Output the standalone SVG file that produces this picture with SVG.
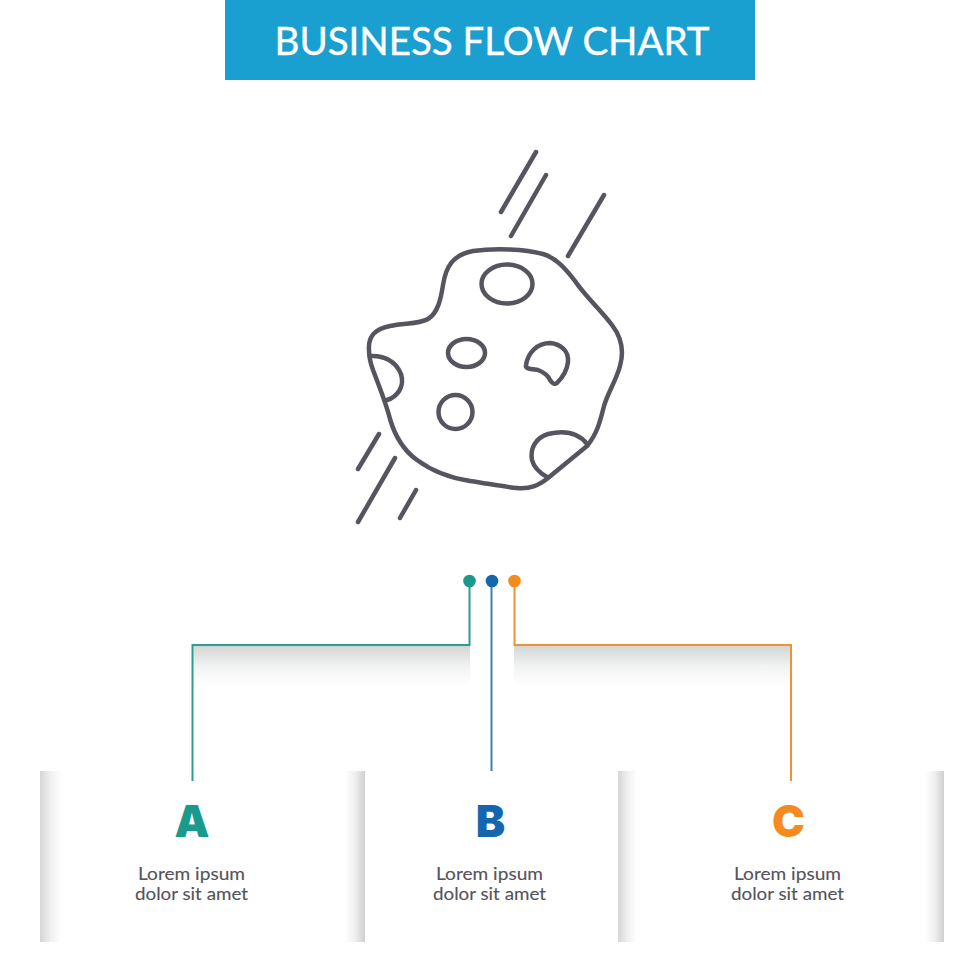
<svg xmlns="http://www.w3.org/2000/svg" width="980" height="980" viewBox="0 0 980 980">
<style>
.ink{fill:none;stroke:#56545f;stroke-width:4.500;stroke-linecap:round;stroke-linejoin:round}
.link{fill:none;stroke-width:2}
.letter{font-family:"Inter","Liberation Sans",sans-serif;font-weight:900;font-size:44px;text-anchor:middle}
.body{font-family:"Lato","Liberation Sans",sans-serif;font-size:17px;fill:#55535c;stroke:#55535c;stroke-width:.12;text-anchor:middle}
.title{font-family:"Lato","Liberation Sans",sans-serif;font-size:38px;fill:#fff;stroke:#fff;stroke-width:.4;text-anchor:middle}
</style>
<defs>
<linearGradient id="sl" x1="0" x2="1" y1="0" y2="0"><stop offset="0" stop-color="#d6d6d6"/><stop offset=".5" stop-color="#f0f0f0"/><stop offset="1" stop-color="#fff"/></linearGradient>
<linearGradient id="sr" x1="1" x2="0" y1="0" y2="0"><stop offset="0" stop-color="#d0d0d0"/><stop offset=".5" stop-color="#efefef"/><stop offset="1" stop-color="#fff"/></linearGradient>
<linearGradient id="sd" x1="0" x2="0" y1="0" y2="1"><stop offset="0" stop-color="#d4d6d6"/><stop offset=".5" stop-color="#f1f2f2"/><stop offset="1" stop-color="#fff"/></linearGradient>
</defs>
<rect width="980" height="980" fill="#fff"/>
<g id="banner"><rect x="225" y="0" width="530" height="80" fill="#1a9fd1"/>
<text class="title" x="492" y="55" textLength="435" lengthAdjust="spacingAndGlyphs">BUSINESS FLOW CHART</text></g>
<g id="asteroid">
<path class="ink" d="M369 350C368 335 376 329 390 326C405 323 420 324 428 319C438 313 441 298 443 285C446 266 453 255 473 251C495 248 525 249 543 254C556 258 565 268 575 281C585 296 600 309 612 325C622 338 624 352 620 366C616 381 608 392 604 406C600 422 597 434 587 446L548 478C538 486 530 489 517 488C505 487 490 484 470 481C450 478 432 471 417 460C403 450 395 436 390 419C386 403 379 386 373 370C370 362 369 356 369 350Z"/>
<ellipse class="ink" cx="507" cy="284" rx="25.500" ry="19.500"/>
<ellipse class="ink" cx="466.500" cy="353" rx="18.500" ry="14"/>
<ellipse class="ink" cx="455.500" cy="412" rx="17" ry="17"/>
<path class="ink" d="M526 365C528 352 538 343 550 343C561 344 569 351 568 362C567 371 562 378 557 383C554 385 552 383 550 380C548 375 543 372 538 370C531 369 525 369 526 365Z"/>
<path class="ink" d="M370 356C383 355 396 361 401 374C405 387 397 397 387 400"/>
<path class="ink" d="M587 444C577 431 561 431 548 434C535 438 530 449 532 460C534 468 540 473 547 477"/>
<path class="ink" d="M501 212L536 152M511 236L546 175M568 256L604 195M358 469L379 434M358 522L395 458M400 518L416 490"/>
</g>
<g id="connectors">
<rect x="193" y="646" width="277" height="40" fill="url(#sd)"/>
<rect x="514" y="646" width="277" height="40" fill="url(#sd)"/>
<path class="link" stroke="#2f9c90" d="M192.500 781V645H469.500V581"/>
<path class="link" stroke="#3f7fa8" d="M491.500 581V771"/>
<path class="link" stroke="#f0913a" d="M514.500 581V645H791V781"/>
<circle cx="469.500" cy="581" r="6.300" fill="#1a9a8d"/>
<circle cx="492" cy="581" r="6.300" fill="#1467ae"/>
<circle cx="514.500" cy="581" r="6.300" fill="#f58b1f"/>
</g>
<g id="node-a">
<rect x="40" y="771" width="22" height="171" fill="url(#sl)"/>
<rect x="345" y="771" width="20" height="171" fill="url(#sr)"/>
<text class="letter" x="192" y="836.500" fill="#1a9a8d">A</text>
<text class="body" x="191.500" y="880" textLength="107" lengthAdjust="spacingAndGlyphs">Lorem ipsum</text>
<text class="body" x="191.500" y="900" textLength="113" lengthAdjust="spacingAndGlyphs">dolor sit amet</text>
</g>
<g id="node-b">
<text class="letter" x="490.500" y="836.500" fill="#1467ae">B</text>
<text class="body" x="489.500" y="880" textLength="107" lengthAdjust="spacingAndGlyphs">Lorem ipsum</text>
<text class="body" x="489.500" y="900" textLength="113" lengthAdjust="spacingAndGlyphs">dolor sit amet</text>
</g>
<g id="node-c">
<rect x="618" y="771" width="19" height="171" fill="url(#sl)"/>
<rect x="925" y="771" width="19" height="171" fill="url(#sr)"/>
<text class="letter" x="788.500" y="836.500" fill="#f58b1f">C</text>
<text class="body" x="787.500" y="880" textLength="107" lengthAdjust="spacingAndGlyphs">Lorem ipsum</text>
<text class="body" x="787.500" y="900" textLength="113" lengthAdjust="spacingAndGlyphs">dolor sit amet</text>
</g>
</svg>
